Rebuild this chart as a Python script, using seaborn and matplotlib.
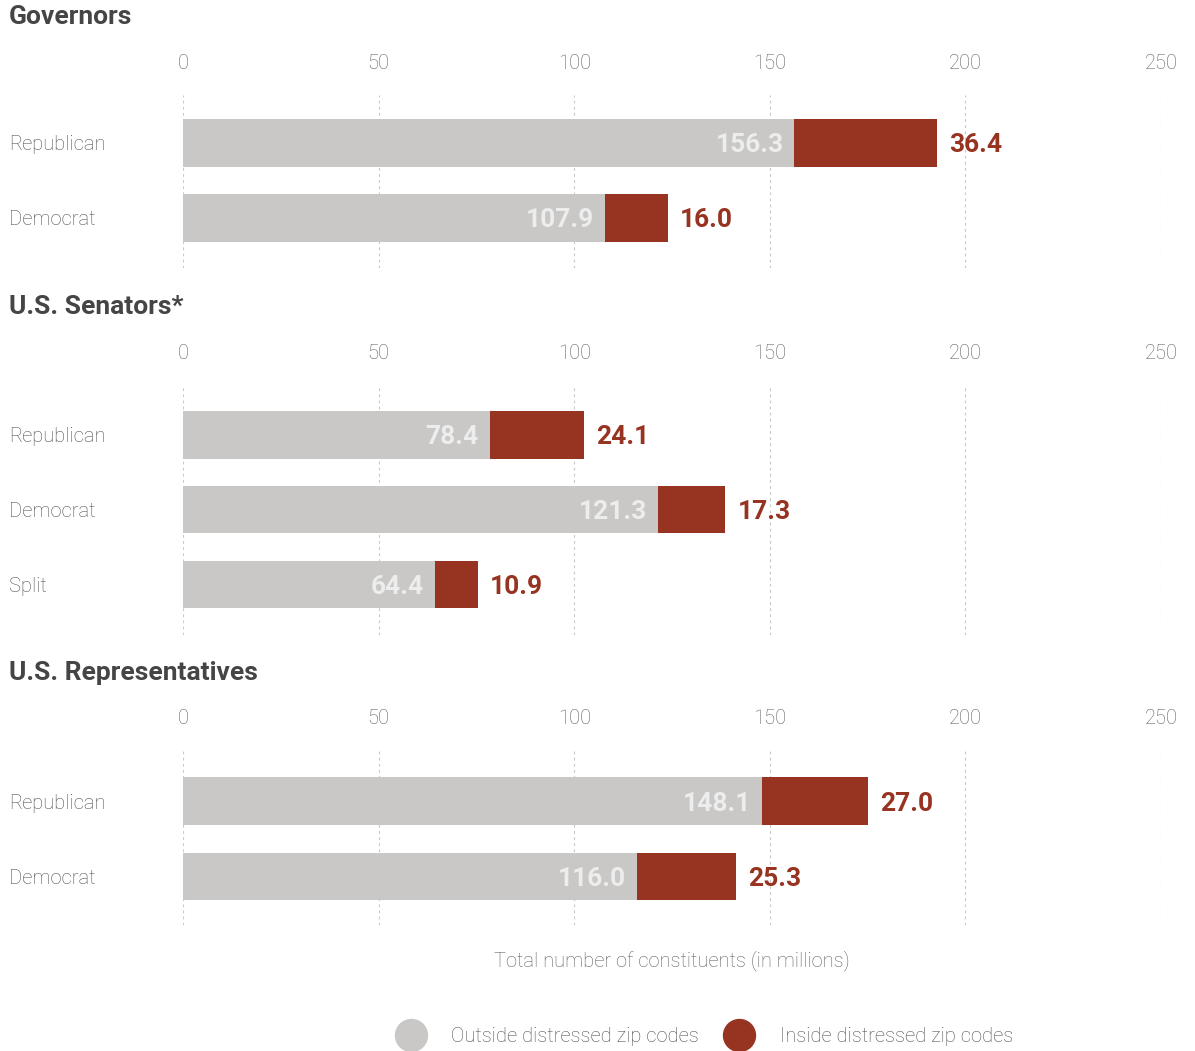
import numpy as np
import pandas as pd
import matplotlib
matplotlib.use("Agg")
import matplotlib.pyplot as plt
from matplotlib.lines import Line2D
import seaborn as sns

# data (millions of constituents)
gov_cats = ["Republican", "Democrat"]
gov_out = [156.3, 107.9]
gov_in = [36.4, 16.0]

sen_cats = ["Republican", "Democrat", "Split"]
sen_out = [78.4, 121.3, 64.4]
sen_in = [24.1, 17.3, 10.9]

rep_cats = ["Republican", "Democrat"]
rep_out = [148.1, 116.0]
rep_in = [27.0, 25.3]

titles = ["Governors", "U.S. Senators*", "U.S. Representatives"]
xticks = [0, 50, 100, 150, 200, 250]

GREY = "#c9c8c6"
RED = "#973321"
TXT = "#505050"

sns.set_theme(style="white")
plt.rcParams["font.family"] = ["Roboto", "DejaVu Sans"]

W, H = 1195, 1051
fig = plt.figure(figsize=(W / 100, H / 100), dpi=100)

# panel pixel layout: (title y, axes top, axes bottom, ylim top, ylim bottom)
panels = [
    (gov_cats, gov_out, gov_in, 17, 95, 268, -0.64, 1.667),
    (sen_cats, sen_out, sen_in, 307, 385, 635, -0.67, 2.68),
    (rep_cats, rep_out, rep_in, 673, 750, 925, -0.68, 1.65),
]

x0, x1 = 183, 1161
for i, (cats, out, inn, ty, top, bot, yt, yb) in enumerate(panels):
    ax = fig.add_axes([x0 / W, 1 - bot / H, (x1 - x0) / W, (bot - top) / H])
    df = pd.DataFrame({"cat": cats, "out": out, "inn": inn})
    df["total"] = df["out"] + df["inn"]
    sns.barplot(data=df, x="total", y="cat", color=RED, orient="h",
                width=0.63, saturation=1, linewidth=0, ax=ax)
    sns.barplot(data=df, x="out", y="cat", color=GREY, orient="h",
                width=0.63, saturation=1, linewidth=0, ax=ax)
    ax.set_xlim(0, 250)
    ax.set_ylim(yb, yt)
    ax.set_xticks(xticks)
    ax.xaxis.tick_top()
    ax.tick_params(axis="x", length=0, pad=16, labelsize=14.5, labelcolor="#606060")
    for lab in ax.get_xticklabels():
        lab.set_fontweight("light")
    ax.tick_params(axis="y", length=0, pad=125, labelsize=14.5, labelcolor=TXT)
    for lab in ax.get_yticklabels():
        lab.set_ha("left")
        lab.set_fontweight("light")
    ax.set_xlabel("")
    ax.set_ylabel("")
    ax.grid(axis="x", linestyle=(0, (2.5, 3)), color="#c8c8c8", linewidth=0.8)
    ax.set_axisbelow(True)
    sns.despine(ax=ax, left=True, bottom=True, top=True, right=True)
    for j, r in df.iterrows():
        ax.text(r["out"] - 2.8, j, f"{r['out']:.1f}", ha="right",
                va="center_baseline", color="#ededed", fontsize=19, fontweight="bold")
        ax.text(r["total"] + 3.2, j, f"{r['inn']:.1f}", ha="left",
                va="center_baseline", color=RED, fontsize=19, fontweight="bold")
    fig.text(9 / W, 1 - ty / H, titles[i], ha="left", va="center",
             fontsize=19, fontweight="bold", color="#454545")

fig.text((x0 + x1) / 2 / W, 1 - 961 / H, "Total number of constituents (in millions)",
         ha="center", va="center", fontsize=14.5, color="#606060", fontweight="light")

handles = [
    Line2D([], [], marker="o", linestyle="", markersize=23, markerfacecolor=GREY,
           markeredgecolor=GREY),
    Line2D([], [], marker="o", linestyle="", markersize=23, markerfacecolor=RED,
           markeredgecolor=RED),
]
leg = fig.legend(handles, ["Outside distressed zip codes", "Inside distressed zip codes"],
                 loc="center", bbox_to_anchor=(702 / W, 1 - 1037 / H), ncol=2,
                 frameon=False, fontsize=14.5, handletextpad=1.0, columnspacing=1.0,
                 labelcolor="#505050")
for t in leg.get_texts():
    t.set_fontweight("light")

fig.savefig("out.png", dpi=100)
